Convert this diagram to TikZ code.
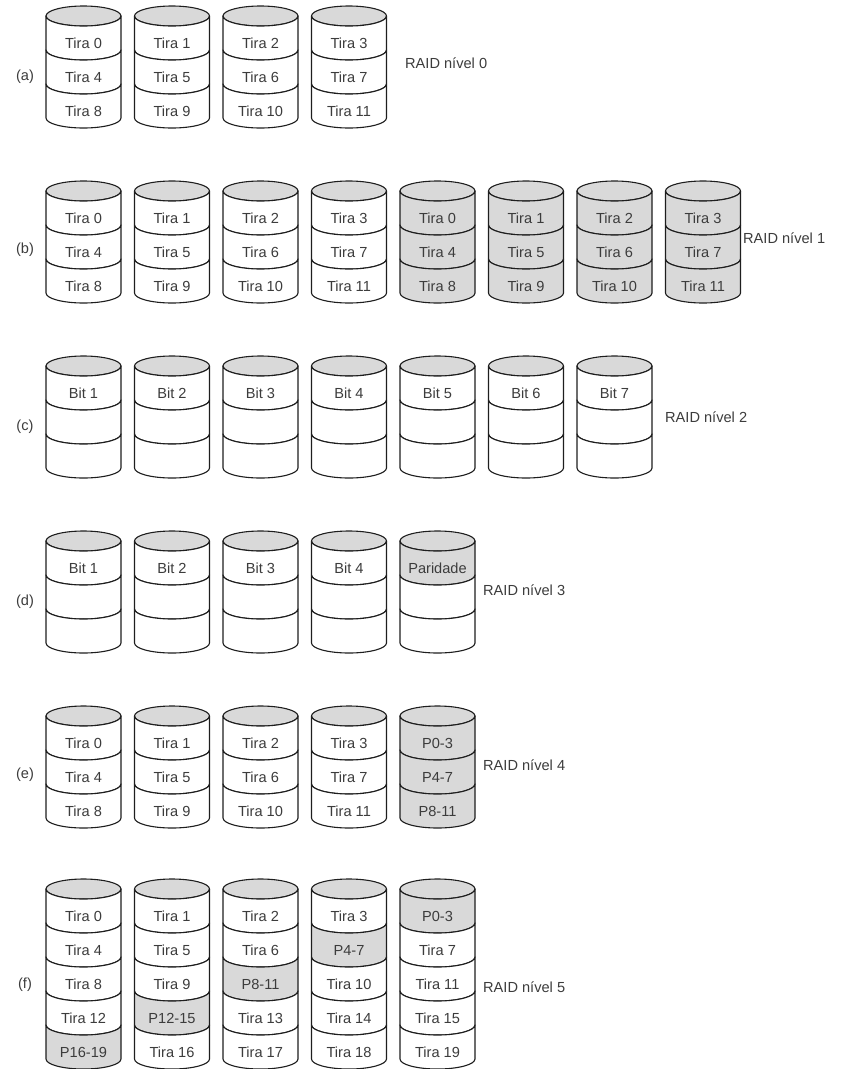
\documentclass[tikz,border=0pt]{standalone}
\usepackage{fontspec}
\setmainfont{Liberation Sans}
\definecolor{gfill}{HTML}{D9D9D9}
\definecolor{txt}{HTML}{3C3C3C}
\definecolor{ln}{HTML}{1E1E1E}
\tikzset{
  disktext/.style={font=\fontsize{14.6}{16}\selectfont, text=txt, inner sep=0pt},
  rowlabel/.style={font=\fontsize{14.6}{16}\selectfont, text=txt, inner sep=0pt},
  raidlabel/.style={font=\fontsize{14.6}{16}\selectfont, text=txt, inner sep=0pt, anchor=west},
  cylline/.style={draw=ln, line width=1.1pt, line join=round},
}
% #1 left x, #2 top y (image coords), #3 name, #4 list label/fill
\newcommand{\raiddisk}[4]{%
  \pgfmathsetmacro\dcx{#1+37.5}%
  \pgfmathsetmacro\dcy{-(#2+11)}%
  \filldraw[cylline, fill=gfill] (\dcx,\dcy) ellipse[x radius=37.5, y radius=10];
  \foreach \t/\f [count=\k from 0] in {#4} {
    \pgfmathsetmacro\ys{\dcy-\k*34}
    \pgfmathsetmacro\yb{\ys-34}
    \pgfmathsetmacro\ym{\ys-27}
    \filldraw[cylline, fill=\f] (#1,\ys) -- (#1,\yb)
      arc[start angle=180, end angle=360, x radius=37.5, y radius=10]
      -- (#1+75,\ys)
      arc[start angle=0, end angle=-180, x radius=37.5, y radius=10] -- cycle;
    \node[disktext] (#3-\k) at (\dcx,\ym) {\t};
  }
}
\begin{document}
\begin{tikzpicture}[x=1pt,y=1pt]
\useasboundingbox (0,0) rectangle (841,-1069);
% (a)
\foreach \i in {0,...,3} {
  \pgfmathtruncatemacro\a{\i}\pgfmathtruncatemacro\b{\i+4}\pgfmathtruncatemacro\c{\i+8}
  \pgfmathsetmacro\xx{46+88.5*\i}
  \raiddisk{\xx}{5}{a\i}{Tira \a/white, Tira \b/white, Tira \c/white}
}
\node[rowlabel] (la) at (25,-77) {(a)};
\node[raidlabel] (ra) at (405,-63) {RAID nível 0};
% (b)
\foreach \i in {0,...,3} {
  \pgfmathtruncatemacro\a{\i}\pgfmathtruncatemacro\b{\i+4}\pgfmathtruncatemacro\c{\i+8}
  \pgfmathsetmacro\xx{46+88.5*\i}
  \raiddisk{\xx}{180}{b\i}{Tira \a/white, Tira \b/white, Tira \c/white}
  \pgfmathsetmacro\xy{46+88.5*(\i+4)}
  \raiddisk{\xy}{180}{bm\i}{Tira \a/gfill, Tira \b/gfill, Tira \c/gfill}
}
\node[rowlabel] (lb) at (25,-250) {(b)};
\node[raidlabel] (rb) at (743,-238) {RAID nível 1};
% (c)
\foreach \i in {1,...,7} {
  \pgfmathsetmacro\xx{46+88.5*(\i-1)}
  \raiddisk{\xx}{355}{c\i}{Bit \i/white, {}/white, {}/white}
}
\node[rowlabel] (lc) at (25,-427) {(c)};
\node[raidlabel] (rc) at (665,-417) {RAID nível 2};
% (d)
\foreach \i in {1,...,4} {
  \pgfmathsetmacro\xx{46+88.5*(\i-1)}
  \raiddisk{\xx}{530}{d\i}{Bit \i/white, {}/white, {}/white}
}
\raiddisk{400}{530}{d5}{Paridade/gfill, {}/white, {}/white}
\node[rowlabel] (ld) at (25,-602) {(d)};
\node[raidlabel] (rd) at (483,-590) {RAID nível 3};
% (e)
\foreach \i in {0,...,3} {
  \pgfmathtruncatemacro\a{\i}\pgfmathtruncatemacro\b{\i+4}\pgfmathtruncatemacro\c{\i+8}
  \pgfmathsetmacro\xx{46+88.5*\i}
  \raiddisk{\xx}{705}{e\i}{Tira \a/white, Tira \b/white, Tira \c/white}
}
\raiddisk{400}{705}{e4}{P0-3/gfill, P4-7/gfill, P8-11/gfill}
\node[rowlabel] (le) at (25,-775) {(e)};
\node[raidlabel] (re) at (483,-765) {RAID nível 4};
% (f)
\raiddisk{46}{878}{f0}{Tira 0/white, Tira 4/white, Tira 8/white, Tira 12/white, P16-19/gfill}
\raiddisk{134.5}{878}{f1}{Tira 1/white, Tira 5/white, Tira 9/white, P12-15/gfill, Tira 16/white}
\raiddisk{223}{878}{f2}{Tira 2/white, Tira 6/white, P8-11/gfill, Tira 13/white, Tira 17/white}
\raiddisk{311.5}{878}{f3}{Tira 3/white, P4-7/gfill, Tira 10/white, Tira 14/white, Tira 18/white}
\raiddisk{400}{878}{f4}{P0-3/gfill, Tira 7/white, Tira 11/white, Tira 15/white, Tira 19/white}
\node[rowlabel] (lf) at (25,-985) {(f)};
\node[raidlabel] (rf) at (483,-987) {RAID nível 5};
\end{tikzpicture}
\end{document}
